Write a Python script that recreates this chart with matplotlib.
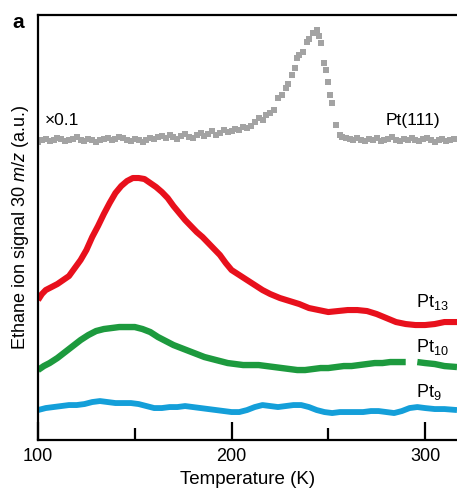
import matplotlib
matplotlib.use("Agg")
import matplotlib.pyplot as plt
import numpy as np

plt.rcParams['font.family'] = ['Liberation Sans', 'DejaVu Sans']
plt.rcParams['mathtext.fontset'] = 'custom'
plt.rcParams['mathtext.rm'] = 'Liberation Sans'
plt.rcParams['mathtext.it'] = 'Liberation Sans:italic'

# Pt13 (red)
t_pt13 = [100, 102, 104, 107, 110, 113, 116, 119, 122, 125, 128, 131, 134, 137, 140,
          143, 146, 149, 152, 155, 158, 161, 164, 167, 170, 173, 176, 179, 182, 185,
          188, 191, 194, 197, 200, 204, 208, 212, 216, 220, 225, 230, 235, 240, 245,
          250, 255, 260, 265, 270, 275, 280, 285, 290, 295, 300, 305, 310, 316.5]
s_pt13 = [140, 146, 150, 153, 156, 160, 164, 172, 180, 190, 203, 214, 226, 237, 247,
          254, 259, 262, 262, 261, 257, 253, 248, 242, 234, 227, 220, 214, 208, 203,
          197, 191, 185, 177, 170, 165, 160, 155, 150, 146, 142, 139, 136, 132, 130,
          128, 129, 130, 130, 129, 126, 122, 118, 116, 115, 115, 116, 118, 118]

# Pt10 (green)
t_pt10 = [100, 103, 106, 110, 114, 118, 122, 126, 130, 134, 138, 142, 146, 150, 154,
          158, 162, 166, 170, 174, 178, 182, 186, 190, 194, 198, 202, 206, 210, 214,
          218, 222, 226, 230, 234, 238, 242, 246, 250, 254, 258, 262, 266, 270, 274,
          278, 282, 286, 290, 293, 296, 300, 305, 310, 316.5]
s_pt10 = [70, 74, 77, 82, 88, 94, 100, 105, 109, 111, 112, 113, 113, 113, 111,
          108, 103, 99, 95, 92, 89, 86, 83, 81, 79, 77, 76, 75, 75, 75,
          74, 73, 72, 71, 70, 70, 71, 72, 72, 73, 74, 74, 75, 76, 77,
          77, 78, 78, 78, np.nan, 78, 77, 76, 74, 73]

# Pt9 (blue)
t_pt9 = [100, 104, 108, 112, 116, 120, 124, 128, 132, 136, 140, 144, 148, 152, 156,
         160, 164, 168, 172, 176, 180, 184, 188, 192, 196, 200, 204, 208, 212, 216,
         220, 224, 228, 232, 236, 240, 244, 248, 252, 256, 260, 264, 268, 272, 276,
         280, 284, 288, 292, 296, 300, 305, 310, 316.5]
s_pt9 = [30, 32, 33, 34, 35, 35, 36, 38, 39, 38, 37, 37, 37, 36, 34,
         32, 32, 33, 33, 34, 33, 32, 31, 30, 29, 28, 28, 30, 33, 35,
         34, 33, 34, 35, 35, 33, 30, 28, 27, 28, 28, 28, 28, 29, 29,
         28, 27, 29, 32, 33, 32, 31, 31, 30]

# Pt(111) (grey, x0.1)
t_111 = [100, 102, 104, 106, 108, 110, 112, 114, 116, 118, 120, 122, 124, 126, 128,
         130, 132, 134, 136, 138, 140, 142, 144, 146, 148, 150, 152, 154, 156, 158,
         160, 162, 164, 166, 168, 170, 172, 174, 176, 178, 180, 182, 184, 186, 188,
         190, 192, 194, 196, 198, 200, 202, 204, 206, 208, 210, 212, 214, 216, 218,
         220, 222, 224, 226, 228, 229, 231, 233, 234, 235, 237, 239, 240, 242, 244,
         245, 246, 248, 249, 250, 251, 252, 254, 256, 257, 259, 261, 263, 265, 267,
         269, 271, 273, 275, 277, 279, 281, 283, 285, 287, 289, 291, 293, 295, 297,
         299, 301, 303, 305, 307, 309, 311, 313, 315]
s_111 = [298, 300, 301, 299, 300, 302, 301, 299, 300, 301, 303, 300, 299, 301, 300,
         298, 300, 301, 302, 300, 301, 303, 302, 300, 299, 301, 300, 298, 300, 302,
         301, 303, 304, 302, 305, 303, 301, 304, 306, 303, 302, 305, 307, 304, 306,
         309, 305, 307, 310, 308, 309, 311, 310, 313, 312, 314, 318, 322, 320, 325,
         327, 330, 342, 345, 352, 356, 365, 372, 382, 385, 388, 398, 401, 407, 410,
         404, 397, 377, 370, 358, 345, 337, 315, 305, 303, 302, 301, 300, 302, 300,
         299, 301, 300, 302, 299, 300, 301, 303, 300, 299, 301, 300, 302, 300, 299,
         301, 302, 300, 298, 300, 301, 299, 300, 301]

fig = plt.figure(figsize=(4.57, 4.95), dpi=100)
ax = fig.add_axes([0.0832, 0.111, 0.9168, 0.8587])

ax.plot(t_111, s_111, 's', color='#a3a3a3', markersize=4.4, markeredgewidth=0)
ax.plot(t_pt13, s_pt13, '-', color='#e8101c', linewidth=4.4, solid_capstyle='butt')
ax.plot(t_pt10, s_pt10, '-', color='#1d9a3e', linewidth=4.6, solid_capstyle='butt')
ax.plot(t_pt9, s_pt9, '-', color='#149fd9', linewidth=4.2, solid_capstyle='butt')

ax.set_xlim(100, 316.5)
ax.set_ylim(0, 425)

ax.set_xticks([100, 200, 300])
ax.set_xticks([150, 250], minor=True)
ax.tick_params(axis='x', which='major', direction='in', length=13, width=1.6,
               labelsize=13, pad=6)
ax.tick_params(axis='x', which='minor', direction='in', length=8.5, width=1.6)
ax.set_yticks([])

ax.spines['right'].set_visible(False)
for s in ['left', 'bottom', 'top']:
    ax.spines[s].set_linewidth(1.6)

ax.set_xlabel('Temperature (K)', fontsize=13.5)
ax.set_ylabel('Ethane ion signal 30 $m/z$ (a.u.)', fontsize=13, labelpad=5)

ax.text(103.5, 315, '×0.1', fontsize=12.5, va='baseline')
ax.text(279.5, 315, 'Pt(111)', fontsize=12.5, va='baseline')
ax.text(295.5, 133, 'Pt$_{13}$', fontsize=13, va='baseline')
ax.text(295.5, 88, 'Pt$_{10}$', fontsize=13, va='baseline')
ax.text(295.5, 43, 'Pt$_{9}$', fontsize=13, va='baseline')

fig.text(12 / 457, 1 - 28 / 495, 'a', fontsize=15, fontweight='bold', va='baseline')

fig.savefig('out.png', dpi=100)
